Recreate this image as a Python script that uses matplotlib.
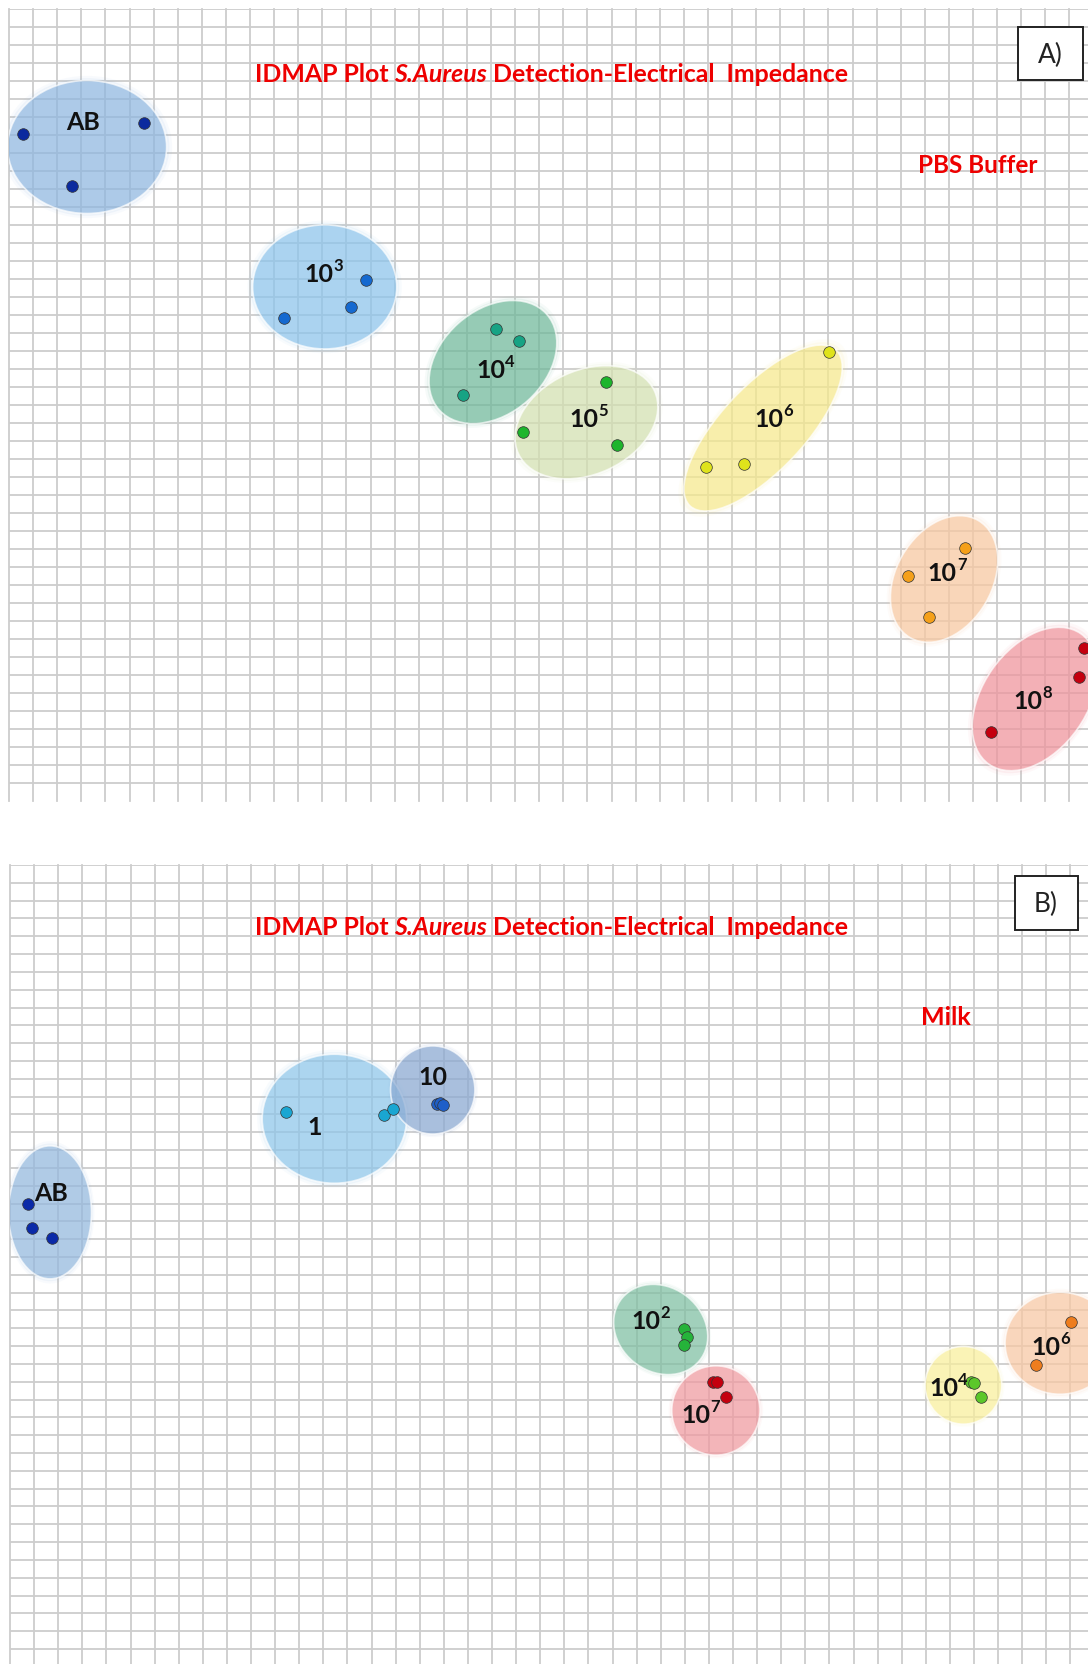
import matplotlib
matplotlib.use("Agg")
import matplotlib.pyplot as plt
from matplotlib.patches import Ellipse, Rectangle
import numpy as np

plt.rcParams['font.family'] = ['Lato', 'DejaVu Sans']

# title pieces: (text, style)
TITLE_PARTS = [('IDMAP Plot ', 'normal'), ('S.Aureus', 'italic'),
               (' Detection-Electrical  Impedance', 'normal')]

# ---------- A) PBS buffer ----------
pbs_groups = ['AB', '10^3', '10^4', '10^5', '10^6', '10^7', '10^8']
pbs_x = [[0.59, 5.60, 2.60],
         [14.81, 14.19, 11.42],
         [20.21, 21.17, 18.83],
         [24.78, 21.34, 25.24],
         [34.04, 28.92, 30.50],
         [39.67, 37.32, 38.17],
         [44.62, 44.40, 40.73]]
pbs_y = [[27.79, 28.25, 25.63],
         [21.72, 20.58, 20.13],
         [19.67, 19.17, 16.92],
         [17.45, 15.39, 14.83],
         [18.72, 13.90, 14.04],
         [10.53, 9.39, 7.68],
         [6.38, 5.15, 2.89]]
# cluster outlines: centre x, centre y, width, height, angle
pbs_ellipses = [(3.24, 27.25, 6.60, 5.54, 0),
                (13.10, 21.42, 5.98, 5.17, 0),
                (20.08, 18.29, 5.98, 4.32, 42),
                (23.96, 15.78, 6.22, 4.32, 25),
                (31.29, 15.54, 8.88, 3.49, 47),
                (38.80, 9.25, 5.64, 3.98, 60),
                (42.57, 4.25, 6.64, 4.32, 55)]
pbs_label_xy = [(3.07, 28.33), (13.03, 21.96), (20.17, 18.0), (24.04, 15.92),
                (31.71, 15.92), (38.91, 9.51), (42.44, 4.18)]
pbs_dot_colors = ['#0b2a9e', '#1569d0', '#17a384', '#1db52c', '#dfe31c', '#f5a01a', '#c4000f']
pbs_bubble_colors = ['#8fb7e0', '#8cc4ec', '#6fb89a', '#d3e0b0', '#f6e98c', '#f8c8a0', '#ef949c']

# ---------- B) milk ----------
milk_groups = ['AB', '1', '10', '10^2', '10^7', '10^4', '10^6']
milk_x = [[0.73, 0.93, 1.73],
          [11.44, 15.52, 15.91],
          [17.70, 17.84, 17.95],
          [27.97, 28.11, 27.97],
          [29.18, 29.32, 29.71],
          [39.89, 40.01, 40.29],
          [44.02, 42.57]]
milk_y = [[18.72, 17.72, 17.28],
          [22.62, 22.47, 22.72],
          [22.93, 23.00, 22.89],
          [13.46, 13.15, 12.80],
          [11.25, 11.25, 10.59],
          [11.22, 11.20, 10.61],
          [13.77, 11.96]]
milk_ellipses = [(1.66, 18.38, 3.44, 5.60, 0),
                 (13.46, 22.32, 5.99, 5.43, 0),
                 (17.54, 23.53, 3.50, 3.71, 0),
                 (27.00, 13.45, 4.15, 3.53, -40),
                 (29.29, 10.04, 3.66, 3.76, 0),
                 (39.56, 11.10, 3.18, 3.27, 0),
                 (43.57, 12.87, 4.56, 4.29, 0)]
milk_label_xy = [(1.69, 19.21), (12.63, 21.99), (17.54, 24.09), (26.56, 13.81),
                 (28.63, 9.89), (38.93, 11.01), (43.15, 12.73)]
milk_dot_colors = ['#0b2aa8', '#1aa6d2', '#1f5fc8', '#25b33a', '#c4000f', '#5cc72a', '#ee7d1e']
milk_bubble_colors = ['#94b8de', '#8ec6ea', '#8aa9d2', '#7fbfa2', '#f09aa0', '#f9ef9c', '#f8c8a4']

RED = '#ee0000'


def draw_grid(ax, xmax, ylo, yhi, first_row):
    for x in np.arange(0, xmax + 1e-6, 1.0):
        ax.plot([x, x], [ylo, yhi], color='#cdcdcd', lw=1.3, zorder=1, clip_on=False)
    for y in np.arange(first_row, yhi + 1e-6, 0.75):
        ax.plot([0, xmax + 1], [y, y], color='#cdcdcd', lw=1.3, zorder=1, clip_on=True)


def bubble(ax, ell, color):
    cx, cy, w, h, ang = ell
    for k, a in [(1.07, 0.06), (1.035, 0.10)]:
        ax.add_patch(Ellipse((cx, cy), w * k, h * k, angle=ang, facecolor=color,
                             edgecolor='none', alpha=a, zorder=2))
    ax.add_patch(Ellipse((cx, cy), w, h, angle=ang, facecolor=color,
                         edgecolor='white', linewidth=1.2, alpha=0.68, zorder=3))


def group_label(ax, x, y, name):
    # "10^n" is written as a base with a small raised exponent
    base, _, exp = name.partition('^')
    t = ax.text(x, y, base, ha='center', va='center', fontsize=18,
                fontweight='bold', color='#111111', zorder=6)
    if exp:
        t.set_x(x - 0.18)
        ax.annotate(exp, xy=(1.0, 0.52), xycoords=t, ha='left', va='bottom',
                    fontsize=12, fontweight='bold', color='#111111', zorder=6)


def title(ax, x, y):
    prev = ax.text(x, y, TITLE_PARTS[0][0], ha='left', va='center', fontsize=17.9,
                   fontweight='bold', color=RED, zorder=6)
    for txt, style in TITLE_PARTS[1:]:
        prev = ax.annotate(txt, xy=(1, 0), xycoords=prev, ha='left', va='bottom',
                           fontsize=17.9, fontweight='bold', fontstyle=style,
                           color=RED, zorder=6)


def draw_panel(ax, groups, xs, ys, ells, label_xy, dot_colors, bubble_colors):
    for i, g in enumerate(groups):
        bubble(ax, ells[i], bubble_colors[i])
        ax.scatter(xs[i], ys[i], s=70, color=dot_colors[i], edgecolor='#333333',
                   linewidth=0.5, zorder=5)
        lx, ly = label_xy[i]
        group_label(ax, lx, ly, g)


fig = plt.figure(figsize=(10.88, 16.65), dpi=100)
W, H = 1088.0, 1665.0

# panel A: grid from px 9..1088 wide, 10..802 tall
axA = fig.add_axes([9 / W, (H - 802) / H, (W - 9) / W, 792 / H])
axA.set_xlim(0, (W - 9) / 24.1)
axA.set_ylim(0, 33.0)
draw_grid(axA, 44, 0, 33.0, 0.75)
draw_panel(axA, pbs_groups, pbs_x, pbs_y, pbs_ellipses, pbs_label_xy,
           pbs_dot_colors, pbs_bubble_colors)
title(axA, 10.2, 30.33)
axA.text(40.21, 26.53, 'PBS Buffer', ha='center', va='center', fontsize=17.5,
         fontweight='bold', color=RED, zorder=6)
axA.add_patch(Rectangle((41.87, 30.04), 2.69, 2.21, facecolor='white',
                        edgecolor='#222222', linewidth=1.4, zorder=6))
axA.text(43.22, 31.12, 'A)', ha='center', va='center', fontsize=19, color='#222222', zorder=7)

# panel B: grid from px 10..1088 wide, 866..1665 tall
axB = fig.add_axes([10 / W, 0, (W - 10) / W, 799 / H])
axB.set_xlim(0, (W - 10) / 24.1)
axB.set_ylim(-0.63, 33.0)
draw_grid(axB, 44, -0.63, 33.0, 0.0)
draw_panel(axB, milk_groups, milk_x, milk_y, milk_ellipses, milk_label_xy,
           milk_dot_colors, milk_bubble_colors)
title(axB, 10.16, 30.40)
axB.text(38.84, 26.63, 'Milk', ha='center', va='center', fontsize=18,
         fontweight='bold', color=RED, zorder=6)
axB.add_patch(Rectangle((41.70, 30.25), 2.61, 2.27, facecolor='white',
                        edgecolor='#222222', linewidth=1.4, zorder=6))
axB.text(42.98, 31.38, 'B)', ha='center', va='center', fontsize=19, color='#222222', zorder=7)

for ax in (axA, axB):
    ax.set_axis_off()

fig.savefig('out.png', dpi=100)
